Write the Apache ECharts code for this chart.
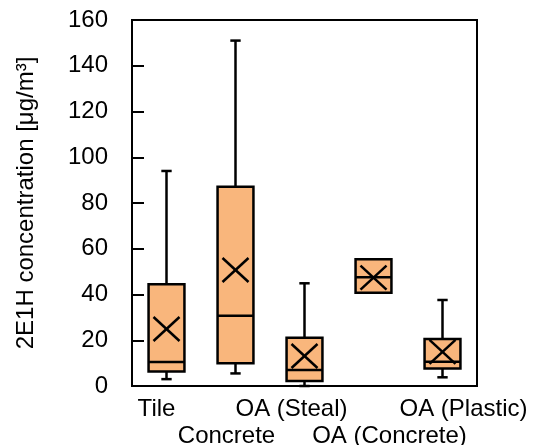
<!DOCTYPE html>
<html>
<head>
<meta charset="utf-8">
<script src="https://cdn.jsdelivr.net/npm/echarts@6/dist/echarts.min.js"></script>
<style>html,body{margin:0;padding:0;background:#fff}#c{width:536px;height:445px}</style>
</head>
<body>
<div id="c"></div>
<script>
// Data
const categories = ['Tile', 'Concrete', 'OA (Steal)', 'OA (Concrete)', 'OA (Plastic)'];
const minValues    = [3.0, 5.5, 0.0, 40.8, 3.8];
const q1Values     = [6.3, 9.9, 2.2, 40.8, 7.7];
const medianValues = [10.5, 30.7, 7.0, 47.5, 10.6];
const q3Values     = [44.5, 87.1, 21.1, 55.4, 20.5];
const maxValues    = [94.0, 151.0, 44.9, 55.4, 37.6];
const meanValues   = [24.9, 50.7, 13.1, 47.4, 14.9];
const yTicks = [0, 20, 40, 60, 80, 100, 120, 140, 160];

const data = categories.map((c, i) => [i, minValues[i], q1Values[i], medianValues[i], q3Values[i], maxValues[i], meanValues[i]]);

const FILL = '#F9B67C';
const LW = 2.5;
function renderItem(params, api) {
  const i = api.value(0);
  const band = api.size([1, 0])[0];
  const bw = band * 0.52, cw = band * 0.15;
  const cx = api.coord([i, 0])[0];
  const y = k => api.coord([i, api.value(k)])[1];
  const yMin = y(1), yQ1 = y(2), yMed = y(3), yQ3 = y(4), yMax = y(5), yMean = y(6);
  const st = { stroke: '#000', lineWidth: LW, fill: null };
  const ch = [];
  if (yMax < yQ3 - 0.5) {
    ch.push({ type: 'line', shape: { x1: cx, y1: yMax, x2: cx, y2: yQ3 }, style: st });
    ch.push({ type: 'line', shape: { x1: cx - cw / 2, y1: yMax, x2: cx + cw / 2, y2: yMax }, style: st });
  }
  if (yMin > yQ1 + 0.5) {
    ch.push({ type: 'line', shape: { x1: cx, y1: yQ1, x2: cx, y2: yMin }, style: st });
    ch.push({ type: 'line', shape: { x1: cx - cw / 2, y1: yMin, x2: cx + cw / 2, y2: yMin }, style: st });
  }
  ch.push({ type: 'rect', shape: { x: cx - bw / 2, y: yQ3, width: bw, height: yQ1 - yQ3 }, style: { fill: FILL, stroke: '#000', lineWidth: LW } });
  ch.push({ type: 'line', shape: { x1: cx - bw / 2, y1: yMed, x2: cx + bw / 2, y2: yMed }, style: st });
  const hx = 13, hy = 12;
  ch.push({ type: 'line', shape: { x1: cx - hx, y1: yMean - hy, x2: cx + hx, y2: yMean + hy }, style: st });
  ch.push({ type: 'line', shape: { x1: cx - hx, y1: yMean + hy, x2: cx + hx, y2: yMean - hy }, style: st });
  return { type: 'group', children: ch };
}

const FONT = '"Liberation Sans", Arial, sans-serif';
const labelPads = [[0, 20, 0, 0], [54, 18, 0, 0], [0, 26, 0, 0], [54, 0, 0, 32], [0, 0, 0, 42]];
const rich = {};
labelPads.forEach((p, i) => { rich['c' + i] = { fontSize: 24, fontFamily: FONT, color: '#000', padding: p, lineHeight: 26 }; });

const chart = echarts.init(document.getElementById('c'), null, { renderer: 'canvas' });
chart.setOption({
  animation: false,
  grid: { left: 132, right: 59, top: 20, bottom: 59, containLabel: false, outerBoundsMode: 'none', show: true, borderColor: '#000', borderWidth: 2, backgroundColor: 'transparent' },
  xAxis: {
    type: 'category', data: categories, boundaryGap: true,
    axisLine: { lineStyle: { color: '#000', width: 2 } },
    axisTick: { show: false },
    splitLine: { show: false },
    axisLabel: {
      interval: 0, margin: 10,
      formatter: (v, idx) => '{c' + idx + '|' + v + '}',
      rich: rich
    }
  },
  yAxis: {
    type: 'value', min: yTicks[0], max: yTicks[yTicks.length - 1], interval: 20,
    name: '2E1H concentration [μg/m³]', nameLocation: 'middle', nameGap: 94,
    nameTextStyle: { fontSize: 24, fontFamily: FONT, color: '#000' },
    axisLine: { show: true, lineStyle: { color: '#000', width: 2 } },
    axisTick: { show: true, inside: true, length: 12, lineStyle: { color: '#000', width: 2 } },
    splitLine: { show: false },
    axisLabel: { fontSize: 24, fontFamily: FONT, color: '#000', margin: 24 }
  },
  series: [{
    type: 'custom', renderItem: renderItem, data: data,
    encode: { x: 0, y: [1, 2, 3, 4, 5, 6] }, clip: false
  }]
});
</script>
</body>
</html>
